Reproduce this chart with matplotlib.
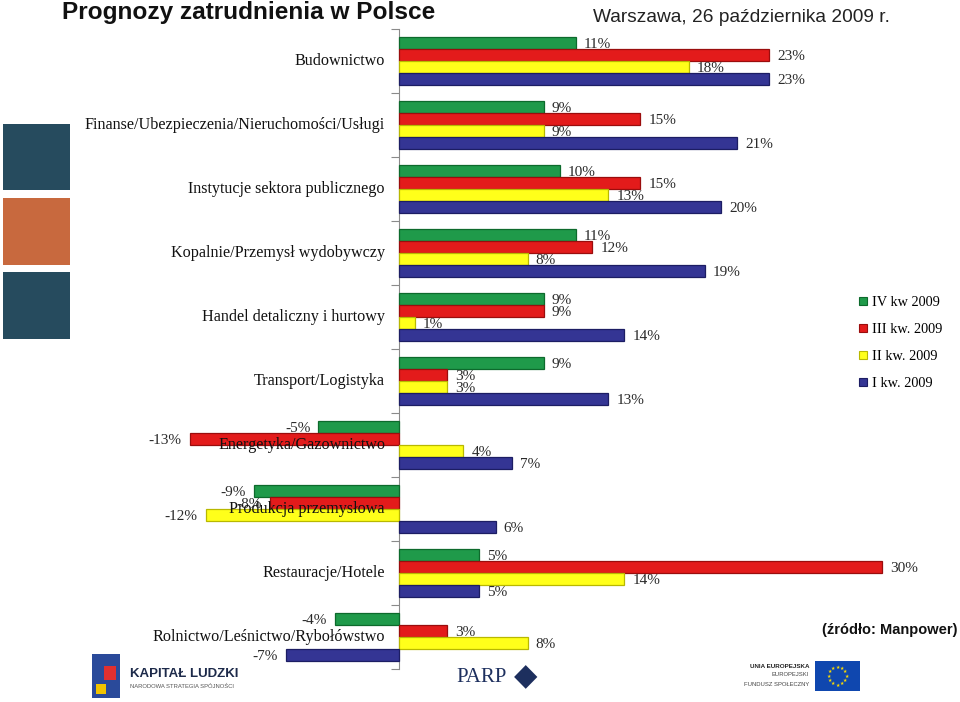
import matplotlib
matplotlib.use("Agg")
import matplotlib.pyplot as plt
from matplotlib.patches import Rectangle, Patch
import numpy as np

categories = ["Budownictwo",
              "Finanse/Ubezpieczenia/Nieruchomości/Usługi",
              "Instytucje sektora publicznego",
              "Kopalnie/Przemysł wydobywczy",
              "Handel detaliczny i hurtowy",
              "Transport/Logistyka",
              "Energetyka/Gazownictwo",
              "Produkcja przemysłowa",
              "Restauracje/Hotele",
              "Rolnictwo/Leśnictwo/Rybołówstwo"]
series_names = ["IV kw 2009", "III kw. 2009", "II kw. 2009", "I kw. 2009"]
q4_2009 = [11, 9, 10, 11, 9, 9, -5, -9, 5, -4]
q3_2009 = [23, 15, 15, 12, 9, 3, -13, -8, 30, 3]
q2_2009 = [18, 9, 13, 8, 1, 3, 4, -12, 14, 8]
q1_2009 = [23, 21, 20, 19, 14, 13, 7, 6, 5, -7]
series = [q4_2009, q3_2009, q2_2009, q1_2009]
colors = ["#1f9a4a", "#e31b1b", "#ffff1a", "#343594"]
edges = ["#0d6a2c", "#9a0d0d", "#b8b800", "#1c1d63"]

W, H = 960, 702
fig = plt.figure(figsize=(W / 100, H / 100), dpi=100)
fig.patch.set_facecolor("white")

# axes geometry in pixels
x0, x1 = 100, 950
zero_px, px_per = 399, 16.1
y_top, y_bot = 29, 669
ax = fig.add_axes([x0 / W, 1 - y_bot / H, (x1 - x0) / W, (y_bot - y_top) / H])
ax.set_xlim((x0 - zero_px) / px_per, (x1 - zero_px) / px_per)
ax.set_ylim(len(categories) - 0.5, -0.5)
ax.patch.set_alpha(0)

serif = ["Liberation Serif", "DejaVu Serif"]
n = len(series)
bh = 0.1875
y = np.arange(len(categories))
for k, (vals, c, ec) in enumerate(zip(series, colors, edges)):
    pos = y + (k - (n - 1) / 2) * bh
    ax.barh(pos, vals, height=bh * 0.96, color=c, edgecolor=ec, linewidth=0.9,
            label=series_names[k], zorder=3)
    for p, v in zip(pos, vals):
        off = 0.5 if v >= 0 else -0.5
        ax.text(v + off, p + 0.025, f"{v}%", ha="left" if v >= 0 else "right",
                va="center", fontsize=11, family=serif, color="#2a2a2a", zorder=4)

for i, cat in enumerate(categories):
    ax.text(-14 / px_per, i, cat, ha="right", va="center", fontsize=11.6,
            family=serif, color="#111111", zorder=5)

for s in ["top", "right", "bottom"]:
    ax.spines[s].set_visible(False)
ax.spines["left"].set_position(("data", 0))
ax.spines["left"].set_color("#8a8a8a")
ax.set_xticks([])
ax.set_yticks(np.arange(-0.5, len(categories) + 0.5, 1.0))
ax.set_yticklabels([])
ax.tick_params(axis="y", length=6, color="#8a8a8a", direction="out")

handles = [Patch(facecolor=c, edgecolor=ec, linewidth=0.8) for c, ec in zip(colors, edges)]
fig.legend(handles, series_names, loc="upper left", bbox_to_anchor=(846 / W, 1 - 283 / H),
           frameon=False, prop={"family": serif, "size": 10.3}, handlelength=0.55,
           handleheight=0.55, handletextpad=0.4, labelspacing=0.98)

# header texts
fig.text(62 / W, 1 - 13 / H, "Prognozy zatrudnienia w Polsce", ha="left", va="center",
         fontsize=17.6, fontweight="bold", family="Liberation Sans", color="#111111")
fig.text(593 / W, 1 - 17 / H, "Warszawa, 26 października 2009 r.", ha="left", va="center",
         fontsize=13.8, family="Liberation Sans", color="#222222")
fig.text(958 / W, 1 - 630 / H, "(źródło: Manpower)", ha="right", va="center",
         fontsize=10.5, fontweight="bold", family="Liberation Sans", color="#111111")

# left decorative squares
for (yt, yb, col) in [(124, 190, "#264b5e"), (198, 265, "#c8693e"), (272, 339, "#264b5e")]:
    fig.add_artist(Rectangle((3 / W, 1 - yb / H), 67 / W, (yb - yt) / H,
                             transform=fig.transFigure, facecolor=col, edgecolor="none"))

# bottom logos (approximate, as text)
fig.text(130 / W, 1 - 674 / H, "KAPITAŁ LUDZKI", ha="left", va="center", fontsize=9.5,
         fontweight="bold", family="Liberation Sans", color="#1d2a4a")
fig.text(130 / W, 1 - 686 / H, "NARODOWA STRATEGIA SPÓJNOŚCI", ha="left", va="center",
         fontsize=4.2, family="Liberation Sans", color="#555555")
fig.add_artist(Rectangle((92 / W, 1 - 698 / H), 28 / W, 44 / H, transform=fig.transFigure,
                         facecolor="#2a4a9a", edgecolor="none"))
fig.add_artist(Rectangle((104 / W, 1 - 680 / H), 12 / W, 14 / H, transform=fig.transFigure,
                         facecolor="#e03030", edgecolor="none"))
fig.add_artist(Rectangle((96 / W, 1 - 694 / H), 10 / W, 10 / H, transform=fig.transFigure,
                         facecolor="#f2c400", edgecolor="none"))
fig.text(456 / W, 1 - 677 / H, "PARP", ha="left", va="center", fontsize=15,
         family=serif, color="#1d2f5e")
fig.text(526 / W, 1 - 677 / H, "◆", ha="center", va="center", fontsize=22,
         family="DejaVu Sans", color="#1d2f5e")
fig.text(809 / W, 1 - 666 / H, "UNIA EUROPEJSKA", ha="right", va="center", fontsize=4.5,
         fontweight="bold", family="Liberation Sans", color="#222222")
fig.text(809 / W, 1 - 675 / H, "EUROPEJSKI", ha="right", va="center", fontsize=4.2,
         family="Liberation Sans", color="#444444")
fig.text(809 / W, 1 - 684 / H, "FUNDUSZ SPOŁECZNY", ha="right", va="center", fontsize=4.2,
         family="Liberation Sans", color="#444444")
fig.add_artist(Rectangle((815 / W, 1 - 691 / H), 45 / W, 30 / H, transform=fig.transFigure,
                         facecolor="#0f47af", edgecolor="none"))
for a in np.linspace(0, 2 * np.pi, 12, endpoint=False):
    fig.text((837.5 + 9 * np.cos(a)) / W, 1 - (676 + 9 * np.sin(a)) / H, "★", ha="center",
             va="center", fontsize=3.5, color="#ffdd00", family="DejaVu Sans")

fig.savefig("out.png", dpi=100, facecolor="white")
